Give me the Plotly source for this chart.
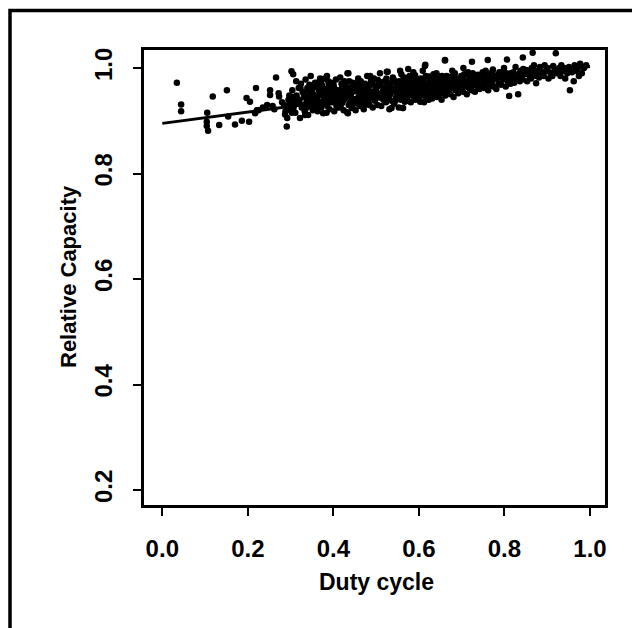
import plotly.graph_objects as go

# ---- data ----
duty_cycle = [
    # sparse low-duty points
    0.034, 0.044, 0.044, 0.105, 0.104, 0.104, 0.107, 0.118, 0.133, 0.151,
    0.154, 0.170, 0.186, 0.203, 0.197, 0.205, 0.219, 0.221, 0.217, 0.225,
    0.235, 0.245, 0.252, 0.252, 0.258, 0.266, 0.262, 0.272, 0.273, 0.280,
    0.287, 0.291, 0.292, 0.295, 0.298, 0.300, 0.302, 0.306, 0.305, 0.308,
    0.285, 0.288, 0.294, 0.297, 0.300, 0.303, 0.304, 0.307,
    # main cloud
    0.311, 0.317, 0.314, 0.319, 0.313,
    0.322, 0.326, 0.321, 0.328, 0.324,
    0.333, 0.337, 0.331, 0.339, 0.335,
    0.341, 0.346, 0.343, 0.348, 0.344, 0.347,
    0.352, 0.358, 0.355, 0.351, 0.357,
    0.363, 0.366, 0.361, 0.368, 0.364, 0.369,
    0.372, 0.377, 0.374, 0.379, 0.371,
    0.384, 0.381, 0.387, 0.383, 0.389, 0.385,
    0.391, 0.396, 0.393, 0.398, 0.395,
    0.402, 0.407, 0.404, 0.409, 0.401, 0.406,
    0.413, 0.418, 0.411, 0.415, 0.419, 0.416,
    0.424, 0.421, 0.427, 0.423, 0.428,
    0.432, 0.436, 0.431, 0.438, 0.434, 0.437, 0.433,
    0.443, 0.447, 0.441, 0.449, 0.445,
    0.452, 0.456, 0.459, 0.451, 0.454, 0.458,
    0.463, 0.468, 0.461, 0.466, 0.464,
    0.471, 0.476, 0.473, 0.478, 0.474, 0.479,
    0.484, 0.481, 0.487, 0.483, 0.488,
    0.492, 0.497, 0.494, 0.499, 0.491, 0.495,
    0.503, 0.508, 0.501, 0.506, 0.504, 0.509,
    0.512, 0.517, 0.514, 0.519, 0.511,
    0.523, 0.528, 0.521, 0.526, 0.524, 0.527,
    0.531, 0.536, 0.533, 0.538, 0.534, 0.539,
    0.542, 0.547, 0.544, 0.549, 0.541,
    0.553, 0.558, 0.551, 0.556, 0.554, 0.559,
    0.562, 0.567, 0.564, 0.569, 0.561, 0.566,
    0.574, 0.571, 0.577, 0.573, 0.578,
    0.581, 0.586, 0.583, 0.588, 0.584, 0.587,
    0.592, 0.597, 0.594, 0.599, 0.591,
    0.603, 0.608, 0.601, 0.606, 0.604, 0.609,
    0.612, 0.617, 0.614, 0.619, 0.611, 0.615,
    0.623, 0.628, 0.621, 0.626, 0.624,
    0.631, 0.636, 0.633, 0.638, 0.634,
    0.642, 0.647, 0.644, 0.649, 0.641,
    0.653, 0.658, 0.651, 0.656, 0.654,
    0.662, 0.667, 0.664, 0.669, 0.661,
    0.674, 0.671, 0.677, 0.673, 0.678,
    0.681, 0.686, 0.683, 0.688, 0.684,
    0.692, 0.697, 0.694, 0.699,
    0.703, 0.708, 0.701, 0.706, 0.704,
    0.712, 0.717, 0.714, 0.719,
    0.723, 0.728, 0.721, 0.726, 0.724,
    0.731, 0.736, 0.733, 0.738,
    0.742, 0.747, 0.744, 0.749,
    0.753, 0.758, 0.751, 0.756,
    0.762, 0.767, 0.764, 0.769, 0.761,
    0.774, 0.771, 0.777, 0.773,
    0.781, 0.786, 0.783, 0.788,
    0.792, 0.797, 0.794, 0.799,
    0.803, 0.808, 0.801, 0.806,
    0.811, 0.814, 0.817, 0.819,
    0.823, 0.828, 0.821, 0.826,
    0.832, 0.836, 0.834, 0.838,
    0.842, 0.847, 0.844, 0.843,
    0.853, 0.858, 0.851,
    0.862, 0.867, 0.864, 0.869,
    0.874, 0.871, 0.877, 0.866,
    0.881, 0.886, 0.883,
    0.892, 0.897, 0.894,
    0.903, 0.908, 0.901,
    0.912, 0.917, 0.914,
    0.923, 0.928, 0.920,
    0.931, 0.936, 0.933,
    0.942, 0.947, 0.940,
    0.953, 0.958, 0.951,
    0.962, 0.967, 0.964,
    0.974, 0.971, 0.977,
    0.981, 0.986,
    0.991,
    # edge points
    0.334, 0.376, 0.434, 0.536, 0.563, 0.380, 0.435, 0.486, 0.525, 0.556,
    0.575, 0.614, 0.661,
    # extra core points
    0.336, 0.345, 0.352, 0.362, 0.367, 0.375, 0.382, 0.388, 0.395, 0.403,
    0.408, 0.414, 0.420, 0.426, 0.433, 0.439, 0.446, 0.452, 0.457, 0.462,
    0.467, 0.472, 0.478, 0.483, 0.488, 0.493, 0.498, 0.502, 0.507, 0.513,
    0.518, 0.523, 0.529, 0.535, 0.541, 0.545, 0.550, 0.557, 0.563, 0.568,
    0.572, 0.578, 0.583, 0.589, 0.595, 0.600, 0.605, 0.611, 0.616, 0.622,
    0.627, 0.632, 0.637, 0.643, 0.648, 0.652, 0.657, 0.663, 0.668, 0.672,
    0.679, 0.685, 0.690, 0.696, 0.702, 0.709, 0.715, 0.720, 0.727, 0.734,
    0.741, 0.748, 0.755, 0.763, 0.772, 0.785, 0.798, 0.815, 0.835, 0.855,
    # more core points
    0.318, 0.323, 0.327, 0.332, 0.338, 0.342, 0.349, 0.353, 0.356, 0.359,
    0.362, 0.366, 0.371, 0.373, 0.378, 0.383, 0.386, 0.390, 0.394, 0.397,
    0.400, 0.405, 0.410, 0.412, 0.417, 0.422, 0.425, 0.429, 0.435, 0.440,
    0.444, 0.448, 0.453, 0.455, 0.460, 0.465, 0.469, 0.474, 0.477, 0.482,
    0.485, 0.490, 0.496, 0.500, 0.505, 0.510, 0.515, 0.520, 0.525, 0.530,
    0.533, 0.538, 0.543, 0.548, 0.552, 0.555, 0.560, 0.565, 0.570, 0.575,
    0.580, 0.585, 0.590, 0.593, 0.598, 0.602, 0.607, 0.613, 0.618, 0.625,
    0.630, 0.635, 0.640, 0.645, 0.650, 0.655, 0.660, 0.665, 0.670, 0.676,
    0.682, 0.687, 0.693, 0.698, 0.705, 0.713, 0.718, 0.725, 0.730, 0.737,
    0.745, 0.752, 0.760, 0.768, 0.776, 0.790, 0.805, 0.825, 0.845, 0.860,
    0.880, 0.900, 0.920, 0.940,
]

rel_capacity = [
    # sparse low-duty points
    0.972, 0.931, 0.918, 0.915, 0.898, 0.890, 0.881, 0.946, 0.892, 0.958,
    0.908, 0.893, 0.900, 0.898, 0.943, 0.936, 0.962, 0.920, 0.914, 0.920,
    0.925, 0.930, 0.958, 0.949, 0.928, 0.982, 0.922, 0.952, 0.946, 0.935,
    0.912, 0.889, 0.905, 0.940, 0.930, 0.920, 0.994, 0.988, 0.945, 0.935,
    0.930, 0.918, 0.925, 0.948, 0.935, 0.915, 0.958, 0.925,
    # main cloud
    0.915, 0.932, 0.948, 0.962, 0.975,
    0.905, 0.925, 0.940, 0.955, 0.970,
    0.918, 0.935, 0.950, 0.962, 0.978,
    0.911, 0.928, 0.945, 0.958, 0.968, 0.985,
    0.920, 0.933, 0.947, 0.960, 0.972,
    0.918, 0.930, 0.942, 0.955, 0.965, 0.980,
    0.925, 0.938, 0.950, 0.960, 0.975,
    0.915, 0.932, 0.944, 0.958, 0.968, 0.985,
    0.922, 0.936, 0.948, 0.962, 0.972,
    0.918, 0.930, 0.940, 0.952, 0.965, 0.978,
    0.925, 0.937, 0.950, 0.958, 0.970, 0.982,
    0.920, 0.934, 0.946, 0.956, 0.968,
    0.916, 0.930, 0.944, 0.955, 0.963, 0.975, 0.990,
    0.924, 0.938, 0.950, 0.962, 0.972,
    0.920, 0.932, 0.945, 0.956, 0.967, 0.980,
    0.928, 0.940, 0.952, 0.963, 0.975,
    0.922, 0.936, 0.948, 0.958, 0.970, 0.985,
    0.930, 0.942, 0.953, 0.965, 0.976,
    0.925, 0.938, 0.950, 0.960, 0.972, 0.980,
    0.930, 0.944, 0.955, 0.966, 0.977, 0.990,
    0.928, 0.940, 0.952, 0.962, 0.973,
    0.935, 0.946, 0.957, 0.968, 0.980, 0.993,
    0.922, 0.938, 0.950, 0.960, 0.970, 0.982,
    0.932, 0.945, 0.956, 0.967, 0.978,
    0.925, 0.940, 0.952, 0.963, 0.975, 0.988,
    0.924, 0.936, 0.948, 0.960, 0.970, 0.982,
    0.938, 0.950, 0.960, 0.972, 0.985,
    0.935, 0.947, 0.958, 0.968, 0.978, 0.992,
    0.940, 0.952, 0.963, 0.974, 0.986,
    0.936, 0.948, 0.958, 0.970, 0.980, 0.995,
    0.935, 0.944, 0.955, 0.966, 0.976, 1.006,
    0.940, 0.952, 0.962, 0.973, 0.984,
    0.942, 0.955, 0.965, 0.975, 0.988,
    0.945, 0.956, 0.967, 0.978, 0.990,
    0.940, 0.952, 0.963, 0.974, 0.985,
    0.948, 0.960, 0.970, 0.980, 1.015,
    0.950, 0.962, 0.972, 0.983, 0.995,
    0.945, 0.958, 0.968, 0.978, 0.990,
    0.952, 0.963, 0.974, 0.985,
    0.955, 0.966, 0.976, 0.988, 1.000,
    0.950, 0.962, 0.972, 0.984,
    0.958, 0.968, 0.978, 0.990, 1.012,
    0.955, 0.966, 0.976, 0.987,
    0.960, 0.970, 0.980, 0.992,
    0.962, 0.972, 0.983, 0.995,
    0.958, 0.968, 0.978, 0.990, 1.015,
    0.965, 0.975, 0.985, 0.997,
    0.960, 0.970, 0.980, 0.992,
    0.968, 0.978, 0.988, 1.000,
    0.965, 0.975, 0.985, 1.016,
    0.947, 0.970, 0.980, 0.990,
    0.972, 0.982, 0.992, 1.002,
    0.950, 0.975, 0.985, 0.995,
    0.978, 0.988, 0.998, 1.020,
    0.975, 0.986, 0.996,
    0.980, 0.990, 1.000, 1.005,
    0.971, 0.985, 0.995, 1.029,
    0.982, 0.992, 1.002,
    0.985, 0.995, 1.005,
    0.980, 0.990, 1.000,
    0.985, 0.995, 1.004,
    0.990, 1.000, 1.028,
    0.985, 0.995, 1.005,
    0.980, 0.990, 1.000,
    0.958, 0.992, 1.002,
    0.975, 0.995, 1.005,
    0.985, 0.998, 1.008,
    0.990, 1.000,
    1.005,
    # edge points
    0.911, 0.914, 0.914, 0.924, 0.924, 0.980, 0.990, 0.985, 0.993, 0.995,
    0.998, 1.004, 1.014,
    # extra core points
    0.952, 0.965, 0.938, 0.972, 0.948, 0.957, 0.939, 0.975, 0.943, 0.960,
    0.925, 0.944, 0.962, 0.975, 0.951, 0.934, 0.968, 0.941, 0.972, 0.947,
    0.958, 0.930, 0.962, 0.947, 0.981, 0.944, 0.966, 0.950, 0.973, 0.946,
    0.960, 0.940, 0.970, 0.955, 0.975, 0.938, 0.962, 0.945, 0.978, 0.955,
    0.944, 0.967, 0.951, 0.982, 0.958, 0.945, 0.975, 0.960, 0.985, 0.948,
    0.968, 0.958, 0.978, 0.962, 0.950, 0.970, 0.982, 0.955, 0.975, 0.965,
    0.985, 0.960, 0.975, 0.968, 0.980, 0.970, 0.992, 0.965, 0.980, 0.972,
    0.985, 0.975, 0.990, 0.980, 0.992, 0.985, 0.995, 0.990, 0.990, 0.995,
    # more core points
    0.940, 0.962, 0.930, 0.945, 0.925, 0.955, 0.935, 0.950, 0.965, 0.928,
    0.945, 0.958, 0.935, 0.968, 0.945, 0.955, 0.928, 0.962, 0.953, 0.935,
    0.970, 0.948, 0.935, 0.958, 0.928, 0.952, 0.940, 0.962, 0.945, 0.955,
    0.930, 0.958, 0.962, 0.935, 0.958, 0.940, 0.965, 0.945, 0.955, 0.935,
    0.968, 0.955, 0.940, 0.962, 0.945, 0.968, 0.955, 0.975, 0.960, 0.945,
    0.965, 0.975, 0.958, 0.970, 0.945, 0.965, 0.955, 0.962, 0.975, 0.955,
    0.960, 0.972, 0.948, 0.965, 0.975, 0.962, 0.955, 0.970, 0.958, 0.978,
    0.965, 0.950, 0.972, 0.985, 0.960, 0.975, 0.965, 0.985, 0.958, 0.970,
    0.975, 0.965, 0.980, 0.972, 0.985, 0.975, 0.965, 0.988, 0.978, 0.968,
    0.980, 0.985, 0.970, 0.985, 0.980, 0.990, 0.990, 0.985, 0.990, 0.985,
    0.995, 0.995, 0.995, 0.995,
]

fit_x = [0.0, 1.0]
fit_y = [0.895, 1.003]

x_ticks = [0.0, 0.2, 0.4, 0.6, 0.8, 1.0]
x_tick_labels = ["0.0", "0.2", "0.4", "0.6", "0.8", "1.0"]
y_ticks = [0.2, 0.4, 0.6, 0.8, 1.0]
y_tick_labels = ["0.2", "0.4", "0.6", "0.8", "1.0"]

FONT = "Liberation Sans, Arial, Helvetica, sans-serif"

fig = go.Figure()
fig.add_trace(go.Scatter(
    x=duty_cycle, y=rel_capacity, mode="markers",
    marker=dict(color="black", size=6.5, line=dict(width=0)),
    showlegend=False, hoverinfo="skip",
))
fig.add_trace(go.Scatter(
    x=fit_x, y=fit_y, mode="lines",
    line=dict(color="black", width=3),
    showlegend=False, hoverinfo="skip",
))

# the page body adds an 8px offset; figure is sized to fit inside the window
OFF = 8
W, H = 640 - OFF, 628 - OFF
L, T = 144 - OFF, 50 - OFF
R, B = 640 - 605, 628 - 505
PW, PH = W - L - R, H - T - B


def px2paper_x(px):
    return (px - OFF - L) / PW


def py2paper_y(py):
    return (T + PH - (py - OFF)) / PH


fig.update_layout(
    width=W, height=H,
    margin=dict(l=L, r=R, t=T, b=B, pad=0),
    paper_bgcolor="white", plot_bgcolor="white",
    font=dict(family=FONT, color="black"),
    xaxis=dict(
        range=[-0.0428, 1.0351], tickmode="array",
        tickvals=x_ticks, ticktext=x_tick_labels,
        ticks="outside", ticklen=8, tickwidth=2, tickcolor="black",
        showline=True, linecolor="black", linewidth=2.5, mirror=True,
        showgrid=False, zeroline=False,
        tickfont=dict(size=24, family=FONT, weight="bold"),
        ticklabelstandoff=12,
    ),
    yaxis=dict(
        range=[0.1716, 1.0341], tickmode="array",
        tickvals=y_ticks, ticktext=y_tick_labels,
        ticks="outside", ticklen=8, tickwidth=2, tickcolor="black",
        showline=True, linecolor="black", linewidth=2.5, mirror=True,
        showgrid=False, zeroline=False, tickangle=-90,
        tickfont=dict(size=24, family=FONT, weight="bold"),
        ticklabelstandoff=12,
    ),
    annotations=[
        dict(text="Duty cycle", xref="paper", yref="paper",
             x=px2paper_x(376), y=py2paper_y(582), xanchor="center", yanchor="middle",
             showarrow=False, font=dict(size=23, family=FONT, weight="bold")),
        dict(text="Relative Capacity", xref="paper", yref="paper",
             x=px2paper_x(68), y=py2paper_y(277), xanchor="center", yanchor="middle",
             textangle=-90, showarrow=False,
             font=dict(size=22, family=FONT, weight="bold")),
    ],
    shapes=[
        dict(type="rect", xref="paper", yref="paper",
             x0=px2paper_x(10), x1=px2paper_x(700),
             y0=py2paper_y(700), y1=py2paper_y(10.5),
             line=dict(color="black", width=3.5), fillcolor="rgba(0,0,0,0)",
             layer="above"),
    ],
)

fig.write_html("out.html")
